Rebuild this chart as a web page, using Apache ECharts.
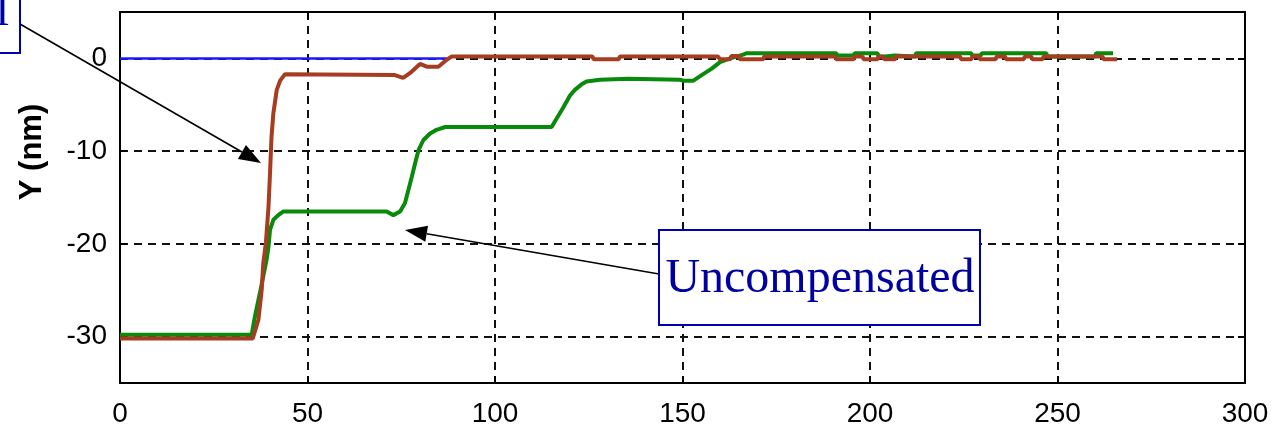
<!DOCTYPE html>
<html>
<head>
<meta charset="utf-8">
<script src="https://cdn.jsdelivr.net/npm/echarts@6/dist/echarts.min.js"></script>
<style>html,body{margin:0;padding:0;background:#fff;}#c{width:1277px;height:429px;}</style>
</head>
<body>
<div id="c"></div>
<script>
// ---- data ----
const xTicks = [0, 50, 100, 150, 200, 250, 300];
const yTicks = [-30, -20, -10, 0];
const refX = [0, 87.2];
const refY = [0, 0];
const uncompX = [0, 35.1, 36, 37.3, 38.2, 39.1, 39.6, 40, 40.9, 42.2, 43.6, 71.1, 72.9, 74.7, 76, 76.9, 77.8, 78.7, 79.6, 80.9, 82.7, 84.4, 86.7, 115.1, 116.4, 118.2, 120, 121.3, 123.1, 124.4, 128, 135.5, 149.3, 150.2, 152.9, 155.1, 157.8, 160, 162.7, 166.2, 167, 191, 191.3, 195.6, 195.9, 202, 202.3, 204, 204.3, 206.5, 206.8, 212, 212.3, 227, 227.3, 229.5, 229.8, 247, 247.3, 260, 260.3, 264.8];
const uncompY = [-29.8, -29.8, -27.8, -25.3, -23.5, -21.7, -20.3, -18.5, -17.4, -16.9, -16.5, -16.5, -16.9, -16.5, -15.6, -14.2, -12.8, -11.3, -9.9, -8.8, -8.1, -7.7, -7.4, -7.4, -6.5, -5.3, -4.0, -3.4, -2.8, -2.5, -2.3, -2.2, -2.3, -2.4, -2.4, -1.8, -1.1, -0.4, 0, 0.4, 0.55, 0.55, 0.3, 0.3, 0.55, 0.55, 0.2, 0.2, 0.3, 0.3, 0.2, 0.2, 0.55, 0.55, 0.3, 0.3, 0.55, 0.55, 0.2, 0.2, 0.55, 0.55];
const compX = [0, 35.4, 36.9, 37.8, 38.2, 38.9, 39.6, 40, 40.4, 40.9, 41.8, 42.7, 44, 73.3, 75.5, 77.3, 80, 81.8, 84.9, 87, 88.4, 126, 126.3, 133, 133.3, 159.5, 160, 162.7, 163, 165, 165.3, 171.5, 171.8, 190.7, 191, 195.6, 196, 198, 198.3, 202, 202.3, 203.5, 203.8, 206.7, 207, 224, 224.3, 227, 227.3, 229, 229.3, 233.5, 233.8, 236, 236.3, 241, 241.3, 243, 243.3, 246, 246.3, 262, 262.3, 265.9];
const compY = [-30.2, -30.2, -28.2, -24.9, -22.1, -19.9, -16.0, -12.4, -8.5, -5.9, -3.4, -2.4, -1.7, -1.8, -2.1, -1.6, -0.6, -0.9, -0.9, -0.2, 0.2, 0.2, -0.1, -0.1, 0.2, 0.2, -0.1, -0.1, 0.25, 0.25, -0.1, -0.1, 0.2, 0.2, -0.1, -0.1, 0.2, 0.2, -0.1, -0.1, 0.2, 0.2, -0.1, -0.1, 0.2, 0.2, -0.1, -0.1, 0.2, 0.2, -0.1, -0.1, 0.2, 0.2, -0.1, -0.1, 0.2, 0.2, -0.1, -0.1, 0.2, 0.2, -0.1, -0.1];
const yAxisTitle = 'Y (nm)';
const noteUncomp = 'Uncompensated';
const noteComp = 'l';

const zip = (a, b) => a.map((v, i) => [v, b[i]]);

const chart = echarts.init(document.getElementById('c'), null, {renderer: 'canvas'});
const tickFont = {fontFamily: 'Liberation Sans, Arial, sans-serif', fontSize: 28, color: '#000'};
const axisLineStyle = {color: '#000', width: 2};
const dash = {color: '#111', width: 2, type: [8, 6]};

function arrow(x1, y1, x2, y2) {
  const dx = x2 - x1, dy = y2 - y1, L = Math.hypot(dx, dy);
  const ux = dx / L, uy = dy / L, len = 22, hw = 8;
  const bx = x2 - ux * len, by = y2 - uy * len;
  return [
    {type: 'line', shape: {x1, y1, x2: bx, y2: by}, style: {stroke: '#000', lineWidth: 1.6}, z: 100},
    {type: 'polygon', shape: {points: [[x2, y2], [bx - uy * hw, by + ux * hw], [bx + uy * hw, by - ux * hw]]}, style: {fill: '#000'}, z: 100}
  ];
}

function frameAxis(pos, extra) {
  return Object.assign({
    type: 'value', position: pos,
    axisLine: {show: true, onZero: false, lineStyle: axisLineStyle},
    axisTick: {show: true, inside: true, length: 7, lineStyle: axisLineStyle},
    axisLabel: {show: false}, splitLine: {show: false}
  }, extra);
}

const option = {
  animation: false,
  backgroundColor: '#fff',
  grid: {left: 120, right: 32, top: 12, bottom: 46, containLabel: false, outerBoundsMode: 'none'},
  xAxis: [
    frameAxis('bottom', {min: xTicks[0], max: xTicks[xTicks.length - 1], interval: 50,
      axisLabel: Object.assign({show: true, margin: 17}, tickFont),
      splitLine: {show: true, lineStyle: dash}}),
    frameAxis('top', {min: xTicks[0], max: xTicks[xTicks.length - 1], interval: 50})
  ],
  yAxis: [
    frameAxis('left', {min: -35, max: 5, splitNumber: 4,
      axisLabel: Object.assign({show: true, margin: 13, showMinLabel: false, showMaxLabel: false,
        formatter: v => (yTicks.indexOf(v) >= 0 ? String(v) : '')}, tickFont),
      splitLine: {show: true, lineStyle: dash}}),
    frameAxis('right', {min: -35, max: 5, splitNumber: 4})
  ],
  series: [
    {type: 'line', data: zip(refX, refY), symbol: 'none', lineStyle: {color: '#1a1aff', width: 2.5}, z: 2},
    {type: 'line', data: zip(uncompX, uncompY), symbol: 'none', lineStyle: {color: '#0a8a0a', width: 4}, z: 3},
    {type: 'line', data: zip(compX, compY), symbol: 'none', lineStyle: {color: '#a63c20', width: 4}, z: 4}
  ],
  graphic: [].concat(
    arrow(20, 24, 261, 163),
    arrow(659, 274, 405, 230),
    [
      {type: 'text', x: 32, y: 152, rotation: Math.PI / 2,
        style: {text: yAxisTitle, font: 'bold 31px "Liberation Sans", Arial, sans-serif', fill: '#000', align: 'center', verticalAlign: 'middle'}, z: 50},
      {type: 'rect', shape: {x: -5, y: -5, width: 25, height: 58}, style: {fill: '#fff', stroke: '#0000b0', lineWidth: 2}, z: 110},
      {type: 'text', x: 9, y: 12, style: {text: noteComp, font: '48px "Liberation Serif", "Times New Roman", serif', fill: '#0000a0', align: 'right', verticalAlign: 'middle'}, z: 111},
      {type: 'rect', shape: {x: 659, y: 230, width: 321, height: 95}, style: {fill: '#fff', stroke: '#0000b0', lineWidth: 2}, z: 110},
      {type: 'text', x: 820, y: 279, style: {text: noteUncomp, font: '48px "Liberation Serif", "Times New Roman", serif', fill: '#0000a0', align: 'center', verticalAlign: 'middle'}, z: 111}
    ]
  )
};
chart.setOption(option);
</script>
</body>
</html>
